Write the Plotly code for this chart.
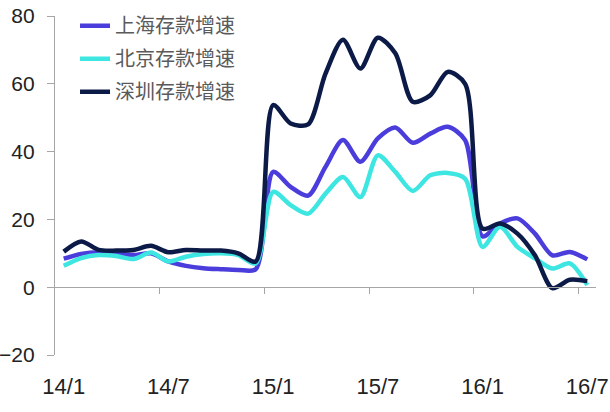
import plotly.graph_objects as go

months = ["14/1","14/2","14/3","14/4","14/5","14/6","14/7","14/8","14/9","14/10","14/11","14/12",
          "15/1","15/2","15/3","15/4","15/5","15/6","15/7","15/8","15/9","15/10","15/11","15/12",
          "16/1","16/2","16/3","16/4","16/5","16/6","16/7"]

shanghai = [8.4, 9.8, 10.3, 10.0, 9.5, 10.0, 7.6, 6.3, 5.6, 5.3, 5.1, 5.3,
            34.0, 29.6, 27.0, 35.5, 43.4, 37.0, 43.9, 47.1, 42.6, 45.3, 47.3, 43.4,
            15.0, 18.8, 20.3, 15.8, 9.4, 10.4, 8.2]
beijing = [6.3, 8.6, 9.5, 9.2, 8.3, 10.2, 7.6, 9.0, 9.8, 10.0, 9.5, 7.0,
           28.1, 24.2, 21.7, 27.6, 32.5, 26.6, 38.9, 34.0, 28.4, 33.0, 33.7, 32.0,
           11.9, 17.8, 11.9, 8.5, 5.5, 7.0, 0.6]
shenzhen = [10.5, 13.5, 11.0, 10.8, 11.0, 12.2, 10.3, 11.0, 10.8, 10.8, 10.0, 7.6,
            53.7, 48.3, 48.0, 63.0, 73.0, 64.5, 73.6, 69.0, 54.7, 56.6, 63.5, 60.0,
            17.3, 18.8, 15.8, 9.4, -0.3, 2.2, 1.8]

series_names = ["上海存款增速", "北京存款增速", "深圳存款增速"]
series_colors = ["#4a3ddc", "#3ee6e2", "#0c1a48"]
label_step = 6
y_ticks = [-20, 0, 20, 40, 60, 80]

idx = list(range(len(months)))
fig = go.Figure()
for i, (name, vals, col) in enumerate(zip(series_names, [shanghai, beijing, shenzhen], series_colors)):
    fig.add_trace(go.Scatter(x=idx, y=vals, mode="lines", name=name,
                             line=dict(color=col, width=4.5, shape="spline", smoothing=0.8),
                             legendgroup=str(i)))

xr = [-0.5, len(months) - 0.5]
tick_font = dict(family="Liberation Sans, Arial, sans-serif", size=22, color="#222")
fig.update_layout(
    width=610, height=412,
    margin=dict(l=55, r=13.5, t=16, b=57, autoexpand=False),
    paper_bgcolor="white", plot_bgcolor="white",
    showlegend=True,
    legend=dict(x=0.037, y=1.029, xanchor="left", yanchor="top",
                font=dict(family="Noto Sans CJK SC", size=20, color="#5a5a5a"),
                bgcolor="rgba(0,0,0,0)", tracegroupgap=4, itemwidth=30),
    xaxis=dict(range=xr, tickvals=idx[::label_step], ticktext=months[::label_step],
               showline=False, ticks="", showgrid=False, zeroline=False, automargin=False,
               tickfont=tick_font, ticklabelstandoff=16, ticklabeloverflow="allow"),
    xaxis2=dict(range=xr, overlaying="x", anchor="free", position=0.2,
                tickvals=[k - 0.5 for k in idx[label_step::label_step]],
                showticklabels=False, ticks="outside", ticklen=6, tickcolor="#a6a6a6",
                showline=True, linecolor="#a6a6a6", linewidth=1.2, showgrid=False,
                zeroline=False, automargin=False),
    yaxis=dict(range=[-20, 80], tickvals=y_ticks, showline=True, linecolor="#a6a6a6",
               linewidth=1.2, ticks="outside", ticklen=7, tickcolor="#a6a6a6",
               showgrid=False, zeroline=False, automargin=False,
               tickfont=dict(family="Liberation Sans, Arial, sans-serif", size=21, color="#222"),
               ticklabelstandoff=8, ticklabeloverflow="allow"),
)
fig.add_trace(go.Scatter(x=xr, y=[None, None], xaxis="x2", showlegend=False, hoverinfo="skip"))
fig.write_html("out.html", config={"displayModeBar": False},
               post_script="document.body.style.margin='0';")
